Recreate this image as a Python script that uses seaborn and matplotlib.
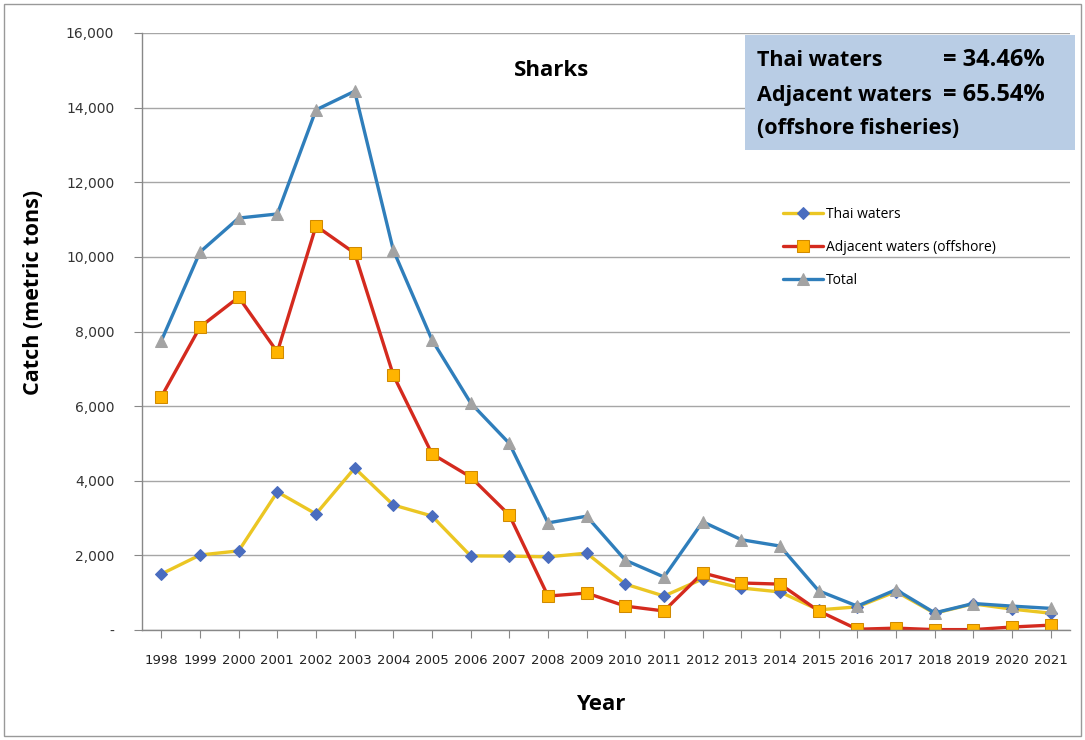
import pandas as pd
import numpy as np
import seaborn as sns
import matplotlib.pyplot as plt
from matplotlib.patches import Rectangle
from matplotlib.ticker import FuncFormatter

# data
years = list(range(1998, 2022))
thai = [1500, 2010, 2120, 3700, 3110, 4340, 3350, 3055, 1985, 1980, 1960, 2060,
        1230, 910, 1370, 1125, 1020, 540, 620, 1030, 450, 700, 560, 450]
adjacent = [6250, 8120, 8920, 7450, 10830, 10100, 6830, 4720, 4100, 3080, 910, 990,
            640, 510, 1530, 1260, 1230, 510, 20, 50, 10, 10, 80, 130]
total = [7750, 10130, 11040, 11150, 13940, 14440, 10180, 7775, 6085, 5000, 2870, 3050,
         1870, 1420, 2900, 2420, 2250, 1050, 640, 1080, 460, 710, 640, 580]
series_names = ['Thai waters', 'Adjacent waters (offshore)', 'Total']

df = pd.DataFrame({'Year': years, series_names[0]: thai,
                   series_names[1]: adjacent, series_names[2]: total})

sns.set_style('white')
plt.rcParams['font.family'] = ['DejaVu Sans']
plt.rcParams['text.color'] = 'black'

fig = plt.figure(figsize=(10.85, 7.40), dpi=100)
ax = fig.add_axes([142 / 1085, 110 / 740, 928 / 1085, 597 / 740])

styles = {
    'Thai waters': dict(color='#EBC623', marker='D', markersize=6,
                        markerfacecolor='#4A6DBF', markeredgecolor='#4A6DBF'),
    'Adjacent waters (offshore)': dict(color='#D42A1E', marker='s', markersize=9,
                                       markerfacecolor='#FFB400', markeredgecolor='#D08A00'),
    'Total': dict(color='#2F7EBB', marker='^', markersize=8,
                  markerfacecolor='#A3A3A3', markeredgecolor='#A3A3A3'),
}
for name in series_names:
    sns.lineplot(data=df, x='Year', y=name, ax=ax, label=name, linewidth=2.4,
                 **styles[name])

ax.set_xlim(1997.5, 2021.5)
ax.set_ylim(0, 16000)
ax.set_xticks(years)
ax.set_xticklabels([str(y) for y in years], fontsize=9.5, color='#222222')
ax.set_yticks(np.arange(0, 16001, 2000))
ax.yaxis.set_major_formatter(FuncFormatter(lambda v, p: '-' if v == 0 else f'{int(v):,}'))
ax.tick_params(axis='y', labelsize=10, length=6, color='#888888', direction='out',
               pad=14, left=True, labelcolor='#333333')
ax.tick_params(axis='x', length=6, color='#888888', direction='out', pad=11, bottom=True)
ax.yaxis.grid(True, color='#A6A6A6', linewidth=1)
ax.set_axisbelow(True)
for s in ['top', 'right']:
    ax.spines[s].set_visible(False)
for s in ['left', 'bottom']:
    ax.spines[s].set_color('#888888')
    ax.spines[s].set_linewidth(1)

ax.set_xlabel('Year', fontsize=16, fontweight='bold', family='Open Sans', color='black')
ax.xaxis.set_label_coords((601 - 142) / 928, -(694 - 630) / 597)
ax.set_ylabel('Catch (metric tons)', fontsize=15.5, fontweight='bold', family='Open Sans',
              color='black')
ax.yaxis.set_label_coords(-(142 - 44) / 928, (630 - 292) / 597)

ax.text((552 - 142) / 928, (630 - 71) / 597, 'Sharks', transform=ax.transAxes, fontsize=16,
        fontweight='bold', family='Open Sans', ha='center', va='center', color='black')

leg = ax.legend(loc='upper left', bbox_to_anchor=((770 - 142) / 928, (630 - 194) / 597),
                frameon=False, handlelength=2.9, handletextpad=0.2, labelspacing=1.3,
                prop={'family': 'Open Sans', 'size': 10})
for t in leg.get_texts():
    t.set_color('black')

# annotation box (figure pixel coordinates)
fig.patches.append(Rectangle((745 / 1085, (740 - 150) / 740), 330 / 1085, 115 / 740,
                             transform=fig.transFigure, facecolor='#B9CDE5',
                             edgecolor='none', zorder=5))
box_font = dict(fontsize=15.5, fontweight='bold', family='Open Sans', va='center',
                zorder=6, color='black')
val_font = dict(box_font, fontsize=17)
fig.text(757 / 1085, 1 - 60 / 740, 'Thai waters', **box_font)
fig.text(943 / 1085, 1 - 60 / 740, '= 34.46%', **val_font)
fig.text(757 / 1085, 1 - 95 / 740, 'Adjacent waters', **box_font)
fig.text(943 / 1085, 1 - 95 / 740, '= 65.54%', **val_font)
fig.text(757 / 1085, 1 - 129 / 740, '(offshore fisheries)', **box_font)

# outer frame
fig.patches.append(Rectangle((4 / 1085, 4 / 740), 1077 / 1085, 732 / 740,
                             transform=fig.transFigure, facecolor='none',
                             edgecolor='#999999', linewidth=1))

fig.savefig('out.png', dpi=100)
